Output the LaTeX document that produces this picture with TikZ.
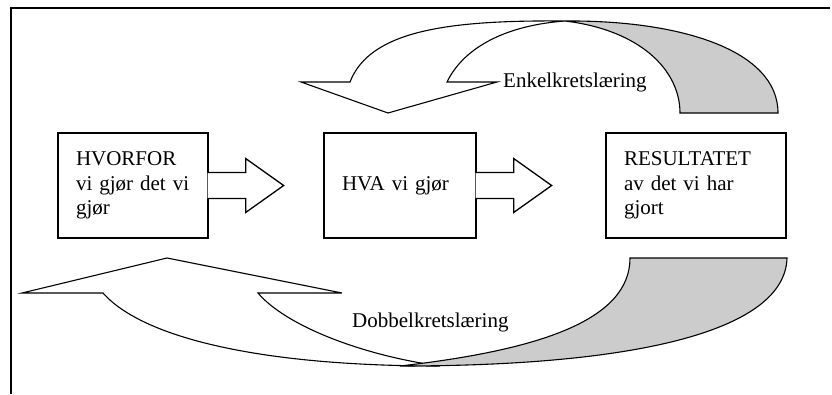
\documentclass[tikz,border=0pt]{standalone}
\usepackage{fontspec}
\setmainfont{Liberation Serif}
\usepackage{tikz}
\usetikzlibrary{calc}
\tikzset{>=stealth}
\definecolor{bakside}{gray}{0.8}
\tikzset{
  boks/.style={draw, line width=1.3pt, fill=white, inner xsep=18pt, inner ysep=0pt,
    minimum height=105pt, align=left, font=\fontsize{21}{24.5}\selectfont},
  pil/.style={draw, line width=1.3pt, fill=white, line join=miter},
  krets/.style={draw, line width=1.1pt, fill=white, line join=miter},
  etikett/.style={inner sep=0pt, font=\fontsize{21}{24.5}\selectfont},
}
\newcommand{\blokkpil}[1]{\path[pil] ($(#1.east)+(-1,-13)$) -- ++(38,0) -- ++(0,-14)
  -- ++(38,27) -- ++(-38,27) -- ++(0,-14) -- ++(-38,0);}

\begin{document}
\begin{tikzpicture}[x=1pt,y=-1pt]
  \useasboundingbox (0,0) rectangle (832,394);
  \draw[line width=1.2pt] (830,8) -- (11,8) -- (11,394);

  % enkelkrets
  \path[krets] (565,21) .. controls (510,25) and (465,45) .. (447,82) -- (497,82)
    -- (388,113) -- (301,82) -- (350,82) .. controls (370,30) and (450,20) .. (565,21) -- cycle;
  \path[krets, fill=bakside] (565,21) .. controls (680,20) and (778,50) .. (778,113)
    -- (680,113) .. controls (680,70) and (640,30) .. (565,21) -- cycle;
  \node[etikett, anchor=base west] (enkel) at (503,87) {Enkelkretslæring};

  \node[boks, text width=114pt] (hvorfor) at (133,185.5) {HVORFOR\\vi gjør det vi\\gjør};
  \node[boks, text width=116pt] (hva) at (400,185.5) {HVA vi gjør};
  \node[boks, text width=144pt] (resultat) at (696,185.5) {RESULTATET\\av det vi har\\gjort};
  \blokkpil{hvorfor}
  \blokkpil{hva}

  % dobbelkrets
  \path[krets] (22,293) -- (167,258) -- (342,293) -- (258,293)
    .. controls (285,325) and (360,355) .. (440,366)
    .. controls (250,366) and (140,335) .. (103,293) -- cycle;
  \path[krets, fill=bakside] (787,258) .. controls (785,330) and (640,366) .. (400,366)
    .. controls (540,350) and (630,320) .. (630,258) -- cycle;
  \node[etikett, anchor=base west] (dobbel) at (352,327) {Dobbelkretslæring};
\end{tikzpicture}
\end{document}
